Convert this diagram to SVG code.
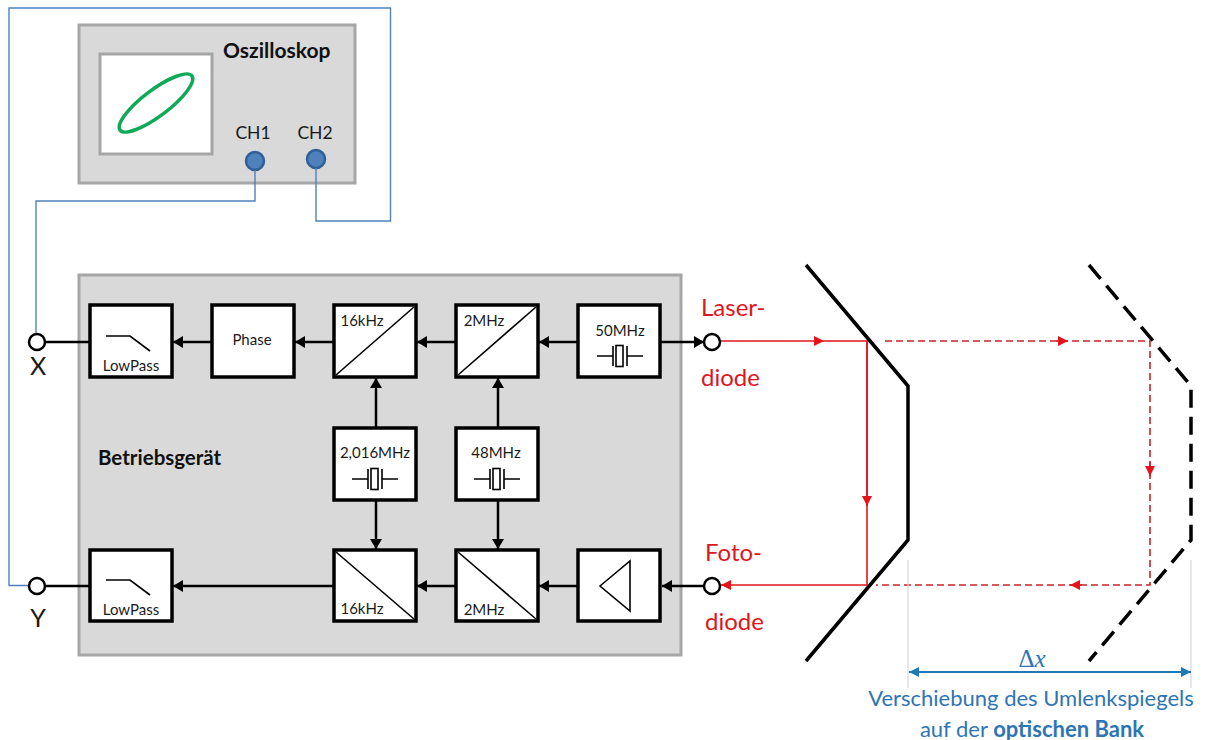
<svg xmlns="http://www.w3.org/2000/svg" width="1214" height="740" viewBox="0 0 1214 740">
<style>
text{font-family:Lato,"Liberation Sans",sans-serif;fill:#1a1a1a}
.panel{fill:#d9d9d9;stroke:#a6a6a6;stroke-width:3}
.b{fill:#fff;stroke:#000;stroke-width:3.5}
.thin{fill:none;stroke:#000;stroke-width:1.6}
.w{stroke:#000;stroke-width:2.5;fill:none}
.blue{fill:none;stroke:#4f81bd;stroke-width:1.4}
.r{stroke:#e0161e;stroke-width:1.6;fill:none}
.rd{stroke:#c8242c;stroke-width:1.6;fill:none;stroke-dasharray:7 4}
.m{fill:none;stroke:#000;stroke-width:3.5}
.pin{fill:#fff;stroke:#000;stroke-width:2.5}
.jack{fill:#4f81bd;stroke:#2f5f97;stroke-width:2.5}
.t{font-size:15px;text-anchor:middle}
.red{font-size:24px;fill:#e0161e}
.bl{font-size:22px;fill:#2e75b6;text-anchor:middle}
</style>
<defs>
<marker id="a" markerUnits="userSpaceOnUse" markerWidth="11" markerHeight="12" refX="10" refY="6" orient="auto"><path d="M0 0L10 6L0 12z" fill="#000"/></marker>
<marker id="ra" markerUnits="userSpaceOnUse" markerWidth="11" markerHeight="10" refX="10" refY="5" orient="auto"><path d="M0 0L10 5L0 10z" fill="#e8121a"/></marker>
<marker id="ba" markerUnits="userSpaceOnUse" markerWidth="11" markerHeight="10" refX="10" refY="5" orient="auto-start-reverse"><path d="M0 0L10 5L0 10z" fill="#1f78b8"/></marker>
<g id="xtal"><path class="thin" d="M-23 0H-7M-7-10V10M7-10V10M7 0H23"/><rect class="thin" x="-4" y="-10.500" width="7" height="21"/></g>
</defs>

<g id="oszilloskop">
<rect class="panel" x="79" y="25" width="276" height="158"/>
<rect x="100" y="54" width="112" height="100" fill="#fff" stroke="#a6a6a6" stroke-width="3"/>
<ellipse cx="156" cy="103" rx="45" ry="13" transform="rotate(-37 156 103)" fill="none" stroke="#0fa958" stroke-width="3.500"/>
<text x="223" y="58" font-size="21" font-weight="700" style="fill:#111">Oszilloskop</text>
<text x="253" y="139" font-size="17.500" text-anchor="middle">CH1</text>
<text x="315" y="139" font-size="17.500" text-anchor="middle">CH2</text>
<circle class="jack" cx="255" cy="161" r="9"/>
<circle class="jack" cx="316" cy="159" r="9"/>
</g>

<g id="betriebsgeraet">
<rect class="panel" x="79" y="275" width="602" height="380"/>
<text x="98" y="465" font-size="20.500" font-weight="700" style="fill:#111">Betriebsgerät</text>
</g>

<g id="connectors">
<path class="blue" d="M255 170V201H36V335"/>
<path class="blue" d="M316 168V221H390.500V8H9V585.500H29"/>
<path class="w" d="M45 342H90M45 586H90"/>
<path class="w" marker-end="url(#a)" d="M212 342H173"/>
<path class="w" marker-end="url(#a)" d="M334 342H295"/>
<path class="w" marker-end="url(#a)" d="M456 342H417"/>
<path class="w" marker-end="url(#a)" d="M578 342H539"/>
<path class="w" marker-end="url(#a)" d="M661 342H704"/>
<path class="w" marker-end="url(#a)" d="M376 428V378"/>
<path class="w" marker-end="url(#a)" d="M498 428V378"/>
<path class="w" marker-end="url(#a)" d="M376 500V549"/>
<path class="w" marker-end="url(#a)" d="M498 500V549"/>
<path class="w" marker-end="url(#a)" d="M334 586H173"/>
<path class="w" marker-end="url(#a)" d="M456 586H417"/>
<path class="w" marker-end="url(#a)" d="M578 586H539"/>
<path class="w" marker-end="url(#a)" d="M704 586H662"/>
<path class="r" marker-end="url(#ra)" d="M720 341H824"/>
<path class="r" d="M824 341H867V585"/>
<path class="r" marker-end="url(#ra)" d="M867 341V506"/>
<path class="r" marker-end="url(#ra)" d="M867 585H721"/>
<path class="rd" d="M885 341H1150V585H876"/>
<path class="rd" style="stroke-dasharray:none" marker-end="url(#ra)" d="M1056 341H1068"/>
<path class="rd" style="stroke-dasharray:none" marker-end="url(#ra)" d="M1150 462V476"/>
<path class="rd" style="stroke-dasharray:none" marker-end="url(#ra)" d="M1082 585H1070"/>
<path stroke="#d9d9d9" stroke-width="1.200" d="M908 560V688M1191 560V688"/>
<path stroke="#1f78b8" stroke-width="2.200" marker-start="url(#ba)" marker-end="url(#ba)" d="M909 672H1191"/>
</g>

<g id="lowpass1"><rect class="b" x="90" y="305" width="82" height="72"/><path class="thin" d="M106 336H130L150 351"/><text class="t" x="131" y="371">LowPass</text></g>
<g id="phase"><rect class="b" x="212" y="305" width="82" height="72"/><text class="t" x="252" y="345">Phase</text></g>
<g id="mix16a"><rect class="b" x="334" y="305" width="82" height="72"/><path class="thin" d="M336 375L414 307"/><text class="t" x="362" y="326">16kHz</text></g>
<g id="mix2a"><rect class="b" x="456" y="305" width="82" height="72"/><path class="thin" d="M458 375L536 307"/><text class="t" x="484" y="326">2MHz</text></g>
<g id="osc50"><rect class="b" x="578" y="305" width="82" height="72"/><text class="t" x="620" y="336">50MHz</text><use href="#xtal" x="620" y="356"/></g>
<g id="osc2016"><rect class="b" x="334" y="428" width="82" height="72"/><text class="t" x="375" y="458">2,016MHz</text><use href="#xtal" x="375" y="479"/></g>
<g id="osc48"><rect class="b" x="456" y="428" width="82" height="72"/><text class="t" x="496" y="458">48MHz</text><use href="#xtal" x="497" y="479"/></g>
<g id="lowpass2"><rect class="b" x="90" y="550" width="82" height="71"/><path class="thin" d="M106 580H130L150 595"/><text class="t" x="131" y="615">LowPass</text></g>
<g id="mix16b"><rect class="b" x="334" y="550" width="82" height="71"/><path class="thin" d="M336 552L414 619"/><text class="t" x="362" y="614">16kHz</text></g>
<g id="mix2b"><rect class="b" x="456" y="550" width="82" height="71"/><path class="thin" d="M458 552L536 619"/><text class="t" x="484" y="615">2MHz</text></g>
<g id="amp"><rect class="b" x="578" y="550" width="82" height="71"/><path class="thin" d="M600 586L630 561V611Z"/></g>

<g id="pin-x"><circle class="pin" cx="37" cy="342" r="8"/><text x="38" y="375" font-size="25" text-anchor="middle">X</text></g>
<g id="pin-y"><circle class="pin" cx="37" cy="586" r="8"/><text x="38" y="627" font-size="25" text-anchor="middle">Y</text></g>
<g id="pin-laser"><circle class="pin" cx="712" cy="342" r="8"/><text class="red" x="701" y="316">Laser-</text><text class="red" x="701" y="386">diode</text></g>
<g id="pin-foto"><circle class="pin" cx="712" cy="586" r="8"/><text class="red" x="705" y="561">Foto-</text><text class="red" x="705" y="630">diode</text></g>

<g id="spiegel"><path class="m" stroke-linejoin="round" d="M806 265L908 386V540L806 661"/></g>
<g id="spiegel-verschoben"><path class="m" style="stroke-dasharray:18 9" d="M1089 265L1191 386V540L1089 661"/></g>

<g id="delta">
<text x="1032" y="667" font-size="25" text-anchor="middle" style="font-family:'Liberation Serif',serif;fill:#2e75b6">Δ<tspan font-style="italic">x</tspan></text>
<text class="bl" x="1031" y="706">Verschiebung des Umlenkspiegels</text>
<text class="bl" x="1032" y="737">auf der <tspan font-weight="700">optischen Bank</tspan></text>
</g>
</svg>
